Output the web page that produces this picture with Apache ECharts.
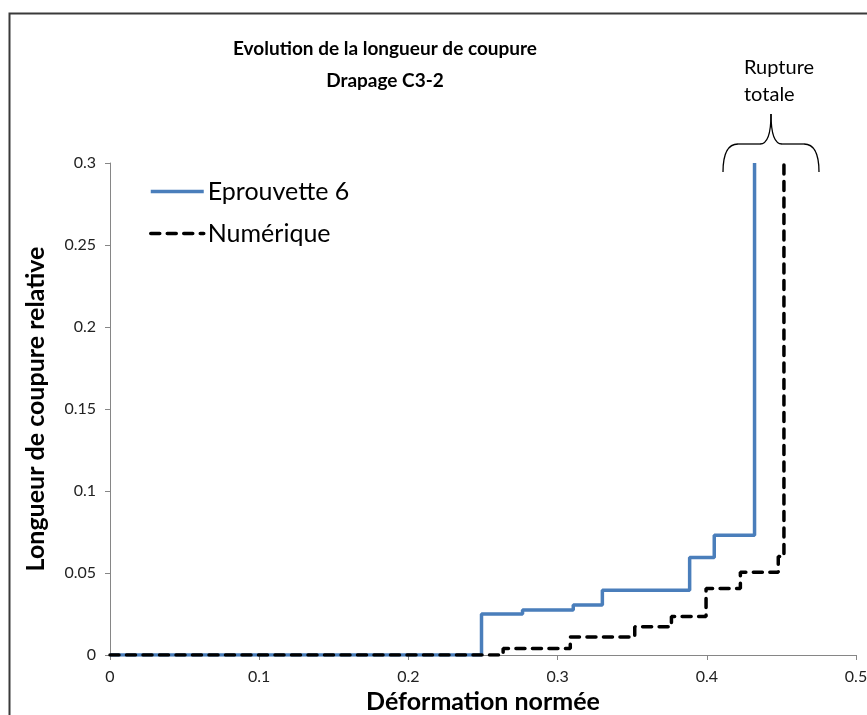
<!DOCTYPE html>
<html>
<head>
<meta charset="utf-8">
<script src="https://cdn.jsdelivr.net/npm/echarts@6/dist/echarts.min.js"></script>
<style>
  html, body { margin: 0; padding: 0; background: #fff; }
  #app { width: 867px; height: 715px; }
</style>
</head>
<body>
<div id="app"></div>
<script>
// step points: at x the curve jumps to y
const eprouvetteX = [0, 0.249, 0.2765, 0.3105, 0.330, 0.3885, 0.405, 0.432];
const eprouvetteY = [0, 0.025, 0.0275, 0.0305, 0.0395, 0.0595, 0.073, 0.3];
const numeriqueX = [0, 0.2635, 0.3085, 0.3517, 0.3763, 0.3995, 0.4225, 0.4479, 0.4517];
const numeriqueY = [0, 0.004, 0.011, 0.0173, 0.0234, 0.0405, 0.0504, 0.060, 0.3];
const xTicks = [0, 0.1, 0.2, 0.3, 0.4, 0.5];
const yTicks = [0, 0.05, 0.1, 0.15, 0.2, 0.25, 0.3];

const font = "Lato, 'Open Sans', sans-serif";

function pairs(xs, ys) {
  return xs.map((x, i) => [x, ys[i]]);
}

const dom = document.getElementById("app");
const myChart = echarts.init(dom);

myChart.setOption({
  animation: false,
  backgroundColor: "#fff",
  textStyle: { fontFamily: font },
  grid: { left: 110, right: 11, top: 163, bottom: 60, outerBoundsMode: "none" },
  legend: {
    orient: "vertical",
    left: 144,
    top: 174,
    itemWidth: 53,
    itemHeight: 24,
    itemGap: 17,
    itemStyle: { opacity: 0 },
    textStyle: { fontSize: 25, color: "#000", fontFamily: font, padding: [0, 0, 0, -1] },
    data: [
      { name: "Eprouvette 6", lineStyle: { width: 3.5, color: "#4A7EBB" } },
      { name: "Numérique", lineStyle: { width: 3.5, color: "#000", type: [9, 7.5], cap: "round" } }
    ]
  },
  xAxis: {
    type: "value",
    min: xTicks[0],
    max: xTicks[xTicks.length - 1],
    interval: 0.1,
    name: "Déformation normée",
    nameLocation: "middle",
    nameGap: 33,
    nameTextStyle: { fontSize: 25, fontWeight: "bold", color: "#000", fontFamily: font, verticalAlign: "top" },
    axisLine: { show: true, lineStyle: { color: "#868686", width: 1 } },
    axisTick: { show: true, length: 5, lineStyle: { color: "#868686" } },
    axisLabel: { margin: 14, fontSize: 16, color: "#222", fontFamily: font },
    splitLine: { show: false }
  },
  yAxis: {
    type: "value",
    min: yTicks[0],
    max: yTicks[yTicks.length - 1],
    interval: 0.05,
    name: "Longueur de coupure relative",
    nameLocation: "middle",
    nameGap: 62,
    nameRotate: 90,
    nameTextStyle: { fontSize: 25, fontWeight: "bold", color: "#000", fontFamily: font },
    axisLine: { show: true, lineStyle: { color: "#868686", width: 1 } },
    axisTick: { show: true, length: 5, lineStyle: { color: "#868686" } },
    axisLabel: { margin: 14, fontSize: 16, color: "#222", fontFamily: font },
    splitLine: { show: false }
  },
  series: [
    {
      name: "Eprouvette 6",
      type: "line",
      step: "end",
      symbol: "none",
      color: "#4A7EBB",
      lineStyle: { color: "#4A7EBB", width: 3.5 },
      data: pairs(eprouvetteX, eprouvetteY)
    },
    {
      name: "Numérique",
      type: "line",
      step: "end",
      symbol: "none",
      color: "#000",
      lineStyle: { color: "#000", width: 3.5, type: [9, 7.5], cap: "round" },
      data: pairs(numeriqueX, numeriqueY)
    }
  ],
  graphic: [
    {
      type: "rect",
      shape: { x: 9.5, y: 13.5, width: 900, height: 800 },
      style: { fill: null, stroke: "#3a3a3a", lineWidth: 2 },
      silent: true
    },
    {
      type: "text",
      x: 385,
      y: 33,
      style: {
        text: "Evolution de la longueur de coupure\nDrapage C3-2",
        align: "center",
        verticalAlign: "top",
        font: "bold 19px " + font,
        lineHeight: 32,
        fill: "#000"
      }
    },
    {
      type: "text",
      x: 744,
      y: 54,
      style: {
        text: "Rupture\ntotale",
        font: "20px " + font,
        lineHeight: 27,
        fill: "#000"
      }
    },
    // curly brace
    { type: "bezierCurve", shape: { x1: 723, y1: 172, x2: 738, y2: 144, cpx1: 723, cpy1: 144 }, style: { stroke: "#000", lineWidth: 1.3, fill: null } },
    { type: "line", shape: { x1: 738, y1: 144, x2: 760, y2: 144 }, style: { stroke: "#000", lineWidth: 1.3 } },
    { type: "bezierCurve", shape: { x1: 760, y1: 144, x2: 771, y2: 114, cpx1: 771, cpy1: 144 }, style: { stroke: "#000", lineWidth: 1.3, fill: null } },
    { type: "bezierCurve", shape: { x1: 771, y1: 114, x2: 782, y2: 144, cpx1: 771, cpy1: 144 }, style: { stroke: "#000", lineWidth: 1.3, fill: null } },
    { type: "line", shape: { x1: 782, y1: 144, x2: 804, y2: 144 }, style: { stroke: "#000", lineWidth: 1.3 } },
    { type: "bezierCurve", shape: { x1: 804, y1: 144, x2: 819, y2: 172, cpx1: 819, cpy1: 144 }, style: { stroke: "#000", lineWidth: 1.3, fill: null } }
  ]
});
</script>
</body>
</html>
